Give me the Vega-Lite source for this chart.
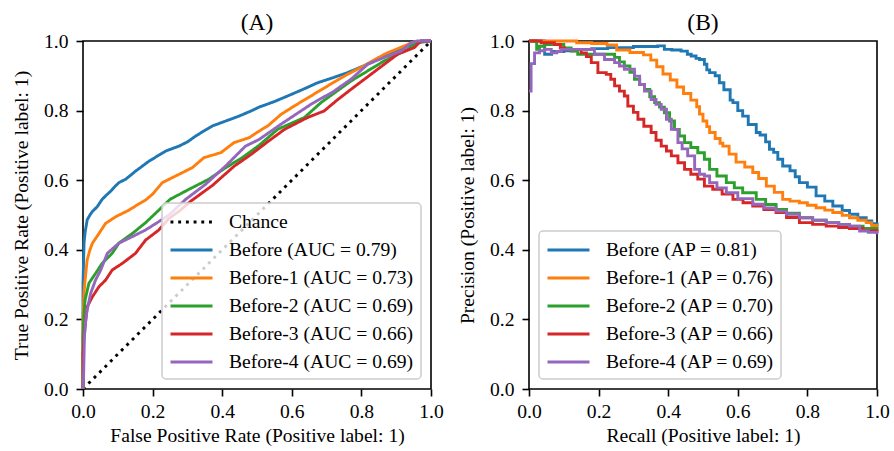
{
  "$schema": "https://vega.github.io/schema/vega-lite/v6.json",
  "padding": {"left": 10, "top": 9, "right": 5, "bottom": 0},
  "spacing": 11,
  "datasets": {
    "roc": [
      {"s": "Chance", "i": 0, "fpr": 0, "tpr": 0},
      {"s": "Chance", "i": 1, "fpr": 1, "tpr": 1},
      {"s": "Before (AUC = 0.79)", "i": 0, "fpr": 0, "tpr": 0},
      {"s": "Before (AUC = 0.79)", "i": 1, "fpr": 0, "tpr": 0.3},
      {"s": "Before (AUC = 0.79)", "i": 2, "fpr": 0.003, "tpr": 0.42},
      {"s": "Before (AUC = 0.79)", "i": 3, "fpr": 0.006, "tpr": 0.45},
      {"s": "Before (AUC = 0.79)", "i": 4, "fpr": 0.012, "tpr": 0.486},
      {"s": "Before (AUC = 0.79)", "i": 5, "fpr": 0.02, "tpr": 0.5},
      {"s": "Before (AUC = 0.79)", "i": 6, "fpr": 0.027, "tpr": 0.51},
      {"s": "Before (AUC = 0.79)", "i": 7, "fpr": 0.041, "tpr": 0.524},
      {"s": "Before (AUC = 0.79)", "i": 8, "fpr": 0.055, "tpr": 0.545},
      {"s": "Before (AUC = 0.79)", "i": 9, "fpr": 0.065, "tpr": 0.555},
      {"s": "Before (AUC = 0.79)", "i": 10, "fpr": 0.08, "tpr": 0.569},
      {"s": "Before (AUC = 0.79)", "i": 11, "fpr": 0.09, "tpr": 0.58},
      {"s": "Before (AUC = 0.79)", "i": 12, "fpr": 0.103, "tpr": 0.593},
      {"s": "Before (AUC = 0.79)", "i": 13, "fpr": 0.123, "tpr": 0.603},
      {"s": "Before (AUC = 0.79)", "i": 14, "fpr": 0.151, "tpr": 0.626},
      {"s": "Before (AUC = 0.79)", "i": 15, "fpr": 0.17, "tpr": 0.64},
      {"s": "Before (AUC = 0.79)", "i": 16, "fpr": 0.19, "tpr": 0.655},
      {"s": "Before (AUC = 0.79)", "i": 17, "fpr": 0.215, "tpr": 0.67},
      {"s": "Before (AUC = 0.79)", "i": 18, "fpr": 0.238, "tpr": 0.684},
      {"s": "Before (AUC = 0.79)", "i": 19, "fpr": 0.276, "tpr": 0.698},
      {"s": "Before (AUC = 0.79)", "i": 20, "fpr": 0.3, "tpr": 0.71},
      {"s": "Before (AUC = 0.79)", "i": 21, "fpr": 0.324, "tpr": 0.727},
      {"s": "Before (AUC = 0.79)", "i": 22, "fpr": 0.345, "tpr": 0.74},
      {"s": "Before (AUC = 0.79)", "i": 23, "fpr": 0.372, "tpr": 0.756},
      {"s": "Before (AUC = 0.79)", "i": 24, "fpr": 0.41, "tpr": 0.77},
      {"s": "Before (AUC = 0.79)", "i": 25, "fpr": 0.448, "tpr": 0.784},
      {"s": "Before (AUC = 0.79)", "i": 26, "fpr": 0.483, "tpr": 0.799},
      {"s": "Before (AUC = 0.79)", "i": 27, "fpr": 0.506, "tpr": 0.81},
      {"s": "Before (AUC = 0.79)", "i": 28, "fpr": 0.55, "tpr": 0.826},
      {"s": "Before (AUC = 0.79)", "i": 29, "fpr": 0.588, "tpr": 0.842},
      {"s": "Before (AUC = 0.79)", "i": 30, "fpr": 0.63, "tpr": 0.86},
      {"s": "Before (AUC = 0.79)", "i": 31, "fpr": 0.674, "tpr": 0.88},
      {"s": "Before (AUC = 0.79)", "i": 32, "fpr": 0.72, "tpr": 0.895},
      {"s": "Before (AUC = 0.79)", "i": 33, "fpr": 0.76, "tpr": 0.909},
      {"s": "Before (AUC = 0.79)", "i": 34, "fpr": 0.81, "tpr": 0.93},
      {"s": "Before (AUC = 0.79)", "i": 35, "fpr": 0.866, "tpr": 0.957},
      {"s": "Before (AUC = 0.79)", "i": 36, "fpr": 0.9, "tpr": 0.972},
      {"s": "Before (AUC = 0.79)", "i": 37, "fpr": 0.933, "tpr": 0.986},
      {"s": "Before (AUC = 0.79)", "i": 38, "fpr": 0.971, "tpr": 1.0},
      {"s": "Before (AUC = 0.79)", "i": 39, "fpr": 1, "tpr": 1},
      {"s": "Before-1 (AUC = 0.73)", "i": 0, "fpr": 0, "tpr": 0},
      {"s": "Before-1 (AUC = 0.73)", "i": 1, "fpr": 0, "tpr": 0.2},
      {"s": "Before-1 (AUC = 0.73)", "i": 2, "fpr": 0.003, "tpr": 0.28},
      {"s": "Before-1 (AUC = 0.73)", "i": 3, "fpr": 0.006, "tpr": 0.313},
      {"s": "Before-1 (AUC = 0.73)", "i": 4, "fpr": 0.012, "tpr": 0.371},
      {"s": "Before-1 (AUC = 0.73)", "i": 5, "fpr": 0.02, "tpr": 0.4},
      {"s": "Before-1 (AUC = 0.73)", "i": 6, "fpr": 0.027, "tpr": 0.419},
      {"s": "Before-1 (AUC = 0.73)", "i": 7, "fpr": 0.046, "tpr": 0.447},
      {"s": "Before-1 (AUC = 0.73)", "i": 8, "fpr": 0.065, "tpr": 0.476},
      {"s": "Before-1 (AUC = 0.73)", "i": 9, "fpr": 0.094, "tpr": 0.495},
      {"s": "Before-1 (AUC = 0.73)", "i": 10, "fpr": 0.132, "tpr": 0.514},
      {"s": "Before-1 (AUC = 0.73)", "i": 11, "fpr": 0.151, "tpr": 0.526},
      {"s": "Before-1 (AUC = 0.73)", "i": 12, "fpr": 0.18, "tpr": 0.543},
      {"s": "Before-1 (AUC = 0.73)", "i": 13, "fpr": 0.2, "tpr": 0.56},
      {"s": "Before-1 (AUC = 0.73)", "i": 14, "fpr": 0.228, "tpr": 0.593},
      {"s": "Before-1 (AUC = 0.73)", "i": 15, "fpr": 0.266, "tpr": 0.612},
      {"s": "Before-1 (AUC = 0.73)", "i": 16, "fpr": 0.314, "tpr": 0.636},
      {"s": "Before-1 (AUC = 0.73)", "i": 17, "fpr": 0.348, "tpr": 0.665},
      {"s": "Before-1 (AUC = 0.73)", "i": 18, "fpr": 0.396, "tpr": 0.679},
      {"s": "Before-1 (AUC = 0.73)", "i": 19, "fpr": 0.434, "tpr": 0.708},
      {"s": "Before-1 (AUC = 0.73)", "i": 20, "fpr": 0.477, "tpr": 0.722},
      {"s": "Before-1 (AUC = 0.73)", "i": 21, "fpr": 0.506, "tpr": 0.741},
      {"s": "Before-1 (AUC = 0.73)", "i": 22, "fpr": 0.531, "tpr": 0.756},
      {"s": "Before-1 (AUC = 0.73)", "i": 23, "fpr": 0.569, "tpr": 0.789},
      {"s": "Before-1 (AUC = 0.73)", "i": 24, "fpr": 0.61, "tpr": 0.815},
      {"s": "Before-1 (AUC = 0.73)", "i": 25, "fpr": 0.655, "tpr": 0.842},
      {"s": "Before-1 (AUC = 0.73)", "i": 26, "fpr": 0.71, "tpr": 0.875},
      {"s": "Before-1 (AUC = 0.73)", "i": 27, "fpr": 0.76, "tpr": 0.904},
      {"s": "Before-1 (AUC = 0.73)", "i": 28, "fpr": 0.81, "tpr": 0.93},
      {"s": "Before-1 (AUC = 0.73)", "i": 29, "fpr": 0.866, "tpr": 0.962},
      {"s": "Before-1 (AUC = 0.73)", "i": 30, "fpr": 0.933, "tpr": 0.99},
      {"s": "Before-1 (AUC = 0.73)", "i": 31, "fpr": 0.95, "tpr": 0.997},
      {"s": "Before-1 (AUC = 0.73)", "i": 32, "fpr": 1, "tpr": 1},
      {"s": "Before-2 (AUC = 0.69)", "i": 0, "fpr": 0, "tpr": 0},
      {"s": "Before-2 (AUC = 0.69)", "i": 1, "fpr": 0, "tpr": 0.15},
      {"s": "Before-2 (AUC = 0.69)", "i": 2, "fpr": 0.003, "tpr": 0.22},
      {"s": "Before-2 (AUC = 0.69)", "i": 3, "fpr": 0.006, "tpr": 0.256},
      {"s": "Before-2 (AUC = 0.69)", "i": 4, "fpr": 0.017, "tpr": 0.304},
      {"s": "Before-2 (AUC = 0.69)", "i": 5, "fpr": 0.036, "tpr": 0.332},
      {"s": "Before-2 (AUC = 0.69)", "i": 6, "fpr": 0.055, "tpr": 0.361},
      {"s": "Before-2 (AUC = 0.69)", "i": 7, "fpr": 0.084, "tpr": 0.39},
      {"s": "Before-2 (AUC = 0.69)", "i": 8, "fpr": 0.103, "tpr": 0.419},
      {"s": "Before-2 (AUC = 0.69)", "i": 9, "fpr": 0.142, "tpr": 0.447},
      {"s": "Before-2 (AUC = 0.69)", "i": 10, "fpr": 0.18, "tpr": 0.478},
      {"s": "Before-2 (AUC = 0.69)", "i": 11, "fpr": 0.218, "tpr": 0.514},
      {"s": "Before-2 (AUC = 0.69)", "i": 12, "fpr": 0.25, "tpr": 0.545},
      {"s": "Before-2 (AUC = 0.69)", "i": 13, "fpr": 0.305, "tpr": 0.574},
      {"s": "Before-2 (AUC = 0.69)", "i": 14, "fpr": 0.362, "tpr": 0.603},
      {"s": "Before-2 (AUC = 0.69)", "i": 15, "fpr": 0.41, "tpr": 0.636},
      {"s": "Before-2 (AUC = 0.69)", "i": 16, "fpr": 0.458, "tpr": 0.665},
      {"s": "Before-2 (AUC = 0.69)", "i": 17, "fpr": 0.506, "tpr": 0.7},
      {"s": "Before-2 (AUC = 0.69)", "i": 18, "fpr": 0.559, "tpr": 0.746},
      {"s": "Before-2 (AUC = 0.69)", "i": 19, "fpr": 0.636, "tpr": 0.78},
      {"s": "Before-2 (AUC = 0.69)", "i": 20, "fpr": 0.684, "tpr": 0.823},
      {"s": "Before-2 (AUC = 0.69)", "i": 21, "fpr": 0.77, "tpr": 0.885},
      {"s": "Before-2 (AUC = 0.69)", "i": 22, "fpr": 0.866, "tpr": 0.943},
      {"s": "Before-2 (AUC = 0.69)", "i": 23, "fpr": 0.933, "tpr": 0.976},
      {"s": "Before-2 (AUC = 0.69)", "i": 24, "fpr": 0.962, "tpr": 0.995},
      {"s": "Before-2 (AUC = 0.69)", "i": 25, "fpr": 1, "tpr": 1},
      {"s": "Before-3 (AUC = 0.66)", "i": 0, "fpr": 0, "tpr": 0},
      {"s": "Before-3 (AUC = 0.66)", "i": 1, "fpr": 0, "tpr": 0.1},
      {"s": "Before-3 (AUC = 0.66)", "i": 2, "fpr": 0.003, "tpr": 0.15},
      {"s": "Before-3 (AUC = 0.66)", "i": 3, "fpr": 0.006, "tpr": 0.179},
      {"s": "Before-3 (AUC = 0.66)", "i": 4, "fpr": 0.012, "tpr": 0.236},
      {"s": "Before-3 (AUC = 0.66)", "i": 5, "fpr": 0.027, "tpr": 0.265},
      {"s": "Before-3 (AUC = 0.66)", "i": 6, "fpr": 0.046, "tpr": 0.294},
      {"s": "Before-3 (AUC = 0.66)", "i": 7, "fpr": 0.065, "tpr": 0.313},
      {"s": "Before-3 (AUC = 0.66)", "i": 8, "fpr": 0.084, "tpr": 0.342},
      {"s": "Before-3 (AUC = 0.66)", "i": 9, "fpr": 0.113, "tpr": 0.361},
      {"s": "Before-3 (AUC = 0.66)", "i": 10, "fpr": 0.151, "tpr": 0.39},
      {"s": "Before-3 (AUC = 0.66)", "i": 11, "fpr": 0.18, "tpr": 0.428},
      {"s": "Before-3 (AUC = 0.66)", "i": 12, "fpr": 0.218, "tpr": 0.457},
      {"s": "Before-3 (AUC = 0.66)", "i": 13, "fpr": 0.247, "tpr": 0.49},
      {"s": "Before-3 (AUC = 0.66)", "i": 14, "fpr": 0.275, "tpr": 0.51},
      {"s": "Before-3 (AUC = 0.66)", "i": 15, "fpr": 0.31, "tpr": 0.54},
      {"s": "Before-3 (AUC = 0.66)", "i": 16, "fpr": 0.372, "tpr": 0.585},
      {"s": "Before-3 (AUC = 0.66)", "i": 17, "fpr": 0.434, "tpr": 0.64},
      {"s": "Before-3 (AUC = 0.66)", "i": 18, "fpr": 0.483, "tpr": 0.674},
      {"s": "Before-3 (AUC = 0.66)", "i": 19, "fpr": 0.53, "tpr": 0.71},
      {"s": "Before-3 (AUC = 0.66)", "i": 20, "fpr": 0.579, "tpr": 0.746},
      {"s": "Before-3 (AUC = 0.66)", "i": 21, "fpr": 0.645, "tpr": 0.78},
      {"s": "Before-3 (AUC = 0.66)", "i": 22, "fpr": 0.693, "tpr": 0.799},
      {"s": "Before-3 (AUC = 0.66)", "i": 23, "fpr": 0.73, "tpr": 0.83},
      {"s": "Before-3 (AUC = 0.66)", "i": 24, "fpr": 0.77, "tpr": 0.861},
      {"s": "Before-3 (AUC = 0.66)", "i": 25, "fpr": 0.847, "tpr": 0.919},
      {"s": "Before-3 (AUC = 0.66)", "i": 26, "fpr": 0.904, "tpr": 0.962},
      {"s": "Before-3 (AUC = 0.66)", "i": 27, "fpr": 0.952, "tpr": 0.981},
      {"s": "Before-3 (AUC = 0.66)", "i": 28, "fpr": 0.971, "tpr": 1.0},
      {"s": "Before-3 (AUC = 0.66)", "i": 29, "fpr": 1, "tpr": 1},
      {"s": "Before-4 (AUC = 0.69)", "i": 0, "fpr": 0, "tpr": 0},
      {"s": "Before-4 (AUC = 0.69)", "i": 1, "fpr": 0.002, "tpr": 0.05},
      {"s": "Before-4 (AUC = 0.69)", "i": 2, "fpr": 0.004, "tpr": 0.15},
      {"s": "Before-4 (AUC = 0.69)", "i": 3, "fpr": 0.008, "tpr": 0.2},
      {"s": "Before-4 (AUC = 0.69)", "i": 4, "fpr": 0.012, "tpr": 0.227},
      {"s": "Before-4 (AUC = 0.69)", "i": 5, "fpr": 0.022, "tpr": 0.275},
      {"s": "Before-4 (AUC = 0.69)", "i": 6, "fpr": 0.036, "tpr": 0.313},
      {"s": "Before-4 (AUC = 0.69)", "i": 7, "fpr": 0.051, "tpr": 0.342},
      {"s": "Before-4 (AUC = 0.69)", "i": 8, "fpr": 0.07, "tpr": 0.39},
      {"s": "Before-4 (AUC = 0.69)", "i": 9, "fpr": 0.103, "tpr": 0.419},
      {"s": "Before-4 (AUC = 0.69)", "i": 10, "fpr": 0.142, "tpr": 0.438},
      {"s": "Before-4 (AUC = 0.69)", "i": 11, "fpr": 0.18, "tpr": 0.457},
      {"s": "Before-4 (AUC = 0.69)", "i": 12, "fpr": 0.218, "tpr": 0.481},
      {"s": "Before-4 (AUC = 0.69)", "i": 13, "fpr": 0.247, "tpr": 0.5},
      {"s": "Before-4 (AUC = 0.69)", "i": 14, "fpr": 0.295, "tpr": 0.545},
      {"s": "Before-4 (AUC = 0.69)", "i": 15, "fpr": 0.352, "tpr": 0.588},
      {"s": "Before-4 (AUC = 0.69)", "i": 16, "fpr": 0.41, "tpr": 0.641},
      {"s": "Before-4 (AUC = 0.69)", "i": 17, "fpr": 0.467, "tpr": 0.698},
      {"s": "Before-4 (AUC = 0.69)", "i": 18, "fpr": 0.506, "tpr": 0.717},
      {"s": "Before-4 (AUC = 0.69)", "i": 19, "fpr": 0.569, "tpr": 0.761},
      {"s": "Before-4 (AUC = 0.69)", "i": 20, "fpr": 0.655, "tpr": 0.818},
      {"s": "Before-4 (AUC = 0.69)", "i": 21, "fpr": 0.72, "tpr": 0.855},
      {"s": "Before-4 (AUC = 0.69)", "i": 22, "fpr": 0.77, "tpr": 0.89},
      {"s": "Before-4 (AUC = 0.69)", "i": 23, "fpr": 0.818, "tpr": 0.933},
      {"s": "Before-4 (AUC = 0.69)", "i": 24, "fpr": 0.866, "tpr": 0.953},
      {"s": "Before-4 (AUC = 0.69)", "i": 25, "fpr": 0.914, "tpr": 0.971},
      {"s": "Before-4 (AUC = 0.69)", "i": 26, "fpr": 0.943, "tpr": 0.995},
      {"s": "Before-4 (AUC = 0.69)", "i": 27, "fpr": 0.96, "tpr": 1.0},
      {"s": "Before-4 (AUC = 0.69)", "i": 28, "fpr": 1, "tpr": 1}
    ],
    "pr": [
      {"s": "Before (AP = 0.81)", "i": 0, "r": 0, "p": 1.0},
      {"s": "Before (AP = 0.81)", "i": 1, "r": 0.04, "p": 1.0},
      {"s": "Before (AP = 0.81)", "i": 2, "r": 0.045, "p": 0.962},
      {"s": "Before (AP = 0.81)", "i": 3, "r": 0.06, "p": 0.962},
      {"s": "Before (AP = 0.81)", "i": 4, "r": 0.065, "p": 0.97},
      {"s": "Before (AP = 0.81)", "i": 5, "r": 0.1, "p": 0.972},
      {"s": "Before (AP = 0.81)", "i": 6, "r": 0.131, "p": 0.976},
      {"s": "Before (AP = 0.81)", "i": 7, "r": 0.18, "p": 0.978},
      {"s": "Before (AP = 0.81)", "i": 8, "r": 0.226, "p": 0.981},
      {"s": "Before (AP = 0.81)", "i": 9, "r": 0.3, "p": 0.984},
      {"s": "Before (AP = 0.81)", "i": 10, "r": 0.37, "p": 0.986},
      {"s": "Before (AP = 0.81)", "i": 11, "r": 0.389, "p": 0.976},
      {"s": "Before (AP = 0.81)", "i": 12, "r": 0.41, "p": 0.974},
      {"s": "Before (AP = 0.81)", "i": 13, "r": 0.437, "p": 0.971},
      {"s": "Before (AP = 0.81)", "i": 14, "r": 0.455, "p": 0.962},
      {"s": "Before (AP = 0.81)", "i": 15, "r": 0.466, "p": 0.957},
      {"s": "Before (AP = 0.81)", "i": 16, "r": 0.48, "p": 0.95},
      {"s": "Before (AP = 0.81)", "i": 17, "r": 0.49, "p": 0.947},
      {"s": "Before (AP = 0.81)", "i": 18, "r": 0.504, "p": 0.933},
      {"s": "Before (AP = 0.81)", "i": 19, "r": 0.511, "p": 0.917},
      {"s": "Before (AP = 0.81)", "i": 20, "r": 0.519, "p": 0.909},
      {"s": "Before (AP = 0.81)", "i": 21, "r": 0.535, "p": 0.9},
      {"s": "Before (AP = 0.81)", "i": 22, "r": 0.547, "p": 0.88},
      {"s": "Before (AP = 0.81)", "i": 23, "r": 0.56, "p": 0.86},
      {"s": "Before (AP = 0.81)", "i": 24, "r": 0.578, "p": 0.83},
      {"s": "Before (AP = 0.81)", "i": 25, "r": 0.586, "p": 0.823},
      {"s": "Before (AP = 0.81)", "i": 26, "r": 0.6, "p": 0.8},
      {"s": "Before (AP = 0.81)", "i": 27, "r": 0.614, "p": 0.784},
      {"s": "Before (AP = 0.81)", "i": 28, "r": 0.63, "p": 0.76},
      {"s": "Before (AP = 0.81)", "i": 29, "r": 0.653, "p": 0.737},
      {"s": "Before (AP = 0.81)", "i": 30, "r": 0.664, "p": 0.73},
      {"s": "Before (AP = 0.81)", "i": 31, "r": 0.68, "p": 0.71},
      {"s": "Before (AP = 0.81)", "i": 32, "r": 0.691, "p": 0.689},
      {"s": "Before (AP = 0.81)", "i": 33, "r": 0.703, "p": 0.68},
      {"s": "Before (AP = 0.81)", "i": 34, "r": 0.715, "p": 0.66},
      {"s": "Before (AP = 0.81)", "i": 35, "r": 0.729, "p": 0.641},
      {"s": "Before (AP = 0.81)", "i": 36, "r": 0.75, "p": 0.627},
      {"s": "Before (AP = 0.81)", "i": 37, "r": 0.765, "p": 0.61},
      {"s": "Before (AP = 0.81)", "i": 38, "r": 0.777, "p": 0.593},
      {"s": "Before (AP = 0.81)", "i": 39, "r": 0.8, "p": 0.58},
      {"s": "Before (AP = 0.81)", "i": 40, "r": 0.825, "p": 0.555},
      {"s": "Before (AP = 0.81)", "i": 41, "r": 0.85, "p": 0.54},
      {"s": "Before (AP = 0.81)", "i": 42, "r": 0.873, "p": 0.526},
      {"s": "Before (AP = 0.81)", "i": 43, "r": 0.9, "p": 0.513},
      {"s": "Before (AP = 0.81)", "i": 44, "r": 0.921, "p": 0.502},
      {"s": "Before (AP = 0.81)", "i": 45, "r": 0.945, "p": 0.492},
      {"s": "Before (AP = 0.81)", "i": 46, "r": 0.969, "p": 0.483},
      {"s": "Before (AP = 0.81)", "i": 47, "r": 0.985, "p": 0.475},
      {"s": "Before (AP = 0.81)", "i": 48, "r": 1.0, "p": 0.466},
      {"s": "Before-1 (AP = 0.76)", "i": 0, "r": 0, "p": 1.0},
      {"s": "Before-1 (AP = 0.76)", "i": 1, "r": 0.137, "p": 0.995},
      {"s": "Before-1 (AP = 0.76)", "i": 2, "r": 0.18, "p": 0.993},
      {"s": "Before-1 (AP = 0.76)", "i": 3, "r": 0.224, "p": 0.989},
      {"s": "Before-1 (AP = 0.76)", "i": 4, "r": 0.252, "p": 0.974},
      {"s": "Before-1 (AP = 0.76)", "i": 5, "r": 0.29, "p": 0.967},
      {"s": "Before-1 (AP = 0.76)", "i": 6, "r": 0.329, "p": 0.96},
      {"s": "Before-1 (AP = 0.76)", "i": 7, "r": 0.35, "p": 0.945},
      {"s": "Before-1 (AP = 0.76)", "i": 8, "r": 0.367, "p": 0.926},
      {"s": "Before-1 (AP = 0.76)", "i": 9, "r": 0.385, "p": 0.905},
      {"s": "Before-1 (AP = 0.76)", "i": 10, "r": 0.406, "p": 0.888},
      {"s": "Before-1 (AP = 0.76)", "i": 11, "r": 0.425, "p": 0.868},
      {"s": "Before-1 (AP = 0.76)", "i": 12, "r": 0.444, "p": 0.849},
      {"s": "Before-1 (AP = 0.76)", "i": 13, "r": 0.465, "p": 0.83},
      {"s": "Before-1 (AP = 0.76)", "i": 14, "r": 0.482, "p": 0.811},
      {"s": "Before-1 (AP = 0.76)", "i": 15, "r": 0.49, "p": 0.79},
      {"s": "Before-1 (AP = 0.76)", "i": 16, "r": 0.5, "p": 0.77},
      {"s": "Before-1 (AP = 0.76)", "i": 17, "r": 0.511, "p": 0.754},
      {"s": "Before-1 (AP = 0.76)", "i": 18, "r": 0.519, "p": 0.737},
      {"s": "Before-1 (AP = 0.76)", "i": 19, "r": 0.535, "p": 0.72},
      {"s": "Before-1 (AP = 0.76)", "i": 20, "r": 0.549, "p": 0.706},
      {"s": "Before-1 (AP = 0.76)", "i": 21, "r": 0.557, "p": 0.698},
      {"s": "Before-1 (AP = 0.76)", "i": 22, "r": 0.575, "p": 0.675},
      {"s": "Before-1 (AP = 0.76)", "i": 23, "r": 0.595, "p": 0.652},
      {"s": "Before-1 (AP = 0.76)", "i": 24, "r": 0.62, "p": 0.638},
      {"s": "Before-1 (AP = 0.76)", "i": 25, "r": 0.643, "p": 0.622},
      {"s": "Before-1 (AP = 0.76)", "i": 26, "r": 0.66, "p": 0.605},
      {"s": "Before-1 (AP = 0.76)", "i": 27, "r": 0.682, "p": 0.583},
      {"s": "Before-1 (AP = 0.76)", "i": 28, "r": 0.705, "p": 0.565},
      {"s": "Before-1 (AP = 0.76)", "i": 29, "r": 0.729, "p": 0.545},
      {"s": "Before-1 (AP = 0.76)", "i": 30, "r": 0.75, "p": 0.54},
      {"s": "Before-1 (AP = 0.76)", "i": 31, "r": 0.777, "p": 0.535},
      {"s": "Before-1 (AP = 0.76)", "i": 32, "r": 0.8, "p": 0.528},
      {"s": "Before-1 (AP = 0.76)", "i": 33, "r": 0.825, "p": 0.521},
      {"s": "Before-1 (AP = 0.76)", "i": 34, "r": 0.85, "p": 0.514},
      {"s": "Before-1 (AP = 0.76)", "i": 35, "r": 0.873, "p": 0.507},
      {"s": "Before-1 (AP = 0.76)", "i": 36, "r": 0.9, "p": 0.499},
      {"s": "Before-1 (AP = 0.76)", "i": 37, "r": 0.921, "p": 0.492},
      {"s": "Before-1 (AP = 0.76)", "i": 38, "r": 0.945, "p": 0.485},
      {"s": "Before-1 (AP = 0.76)", "i": 39, "r": 0.969, "p": 0.478},
      {"s": "Before-1 (AP = 0.76)", "i": 40, "r": 0.985, "p": 0.47},
      {"s": "Before-1 (AP = 0.76)", "i": 41, "r": 1.0, "p": 0.462},
      {"s": "Before-2 (AP = 0.70)", "i": 0, "r": 0, "p": 1.0},
      {"s": "Before-2 (AP = 0.70)", "i": 1, "r": 0.02, "p": 1.0},
      {"s": "Before-2 (AP = 0.70)", "i": 2, "r": 0.022, "p": 0.976},
      {"s": "Before-2 (AP = 0.70)", "i": 3, "r": 0.03, "p": 0.985},
      {"s": "Before-2 (AP = 0.70)", "i": 4, "r": 0.045, "p": 0.99},
      {"s": "Before-2 (AP = 0.70)", "i": 5, "r": 0.083, "p": 0.99},
      {"s": "Before-2 (AP = 0.70)", "i": 6, "r": 0.1, "p": 0.98},
      {"s": "Before-2 (AP = 0.70)", "i": 7, "r": 0.121, "p": 0.971},
      {"s": "Before-2 (AP = 0.70)", "i": 8, "r": 0.14, "p": 0.962},
      {"s": "Before-2 (AP = 0.70)", "i": 9, "r": 0.226, "p": 0.962},
      {"s": "Before-2 (AP = 0.70)", "i": 10, "r": 0.246, "p": 0.953},
      {"s": "Before-2 (AP = 0.70)", "i": 11, "r": 0.26, "p": 0.94},
      {"s": "Before-2 (AP = 0.70)", "i": 12, "r": 0.274, "p": 0.928},
      {"s": "Before-2 (AP = 0.70)", "i": 13, "r": 0.29, "p": 0.91},
      {"s": "Before-2 (AP = 0.70)", "i": 14, "r": 0.303, "p": 0.89},
      {"s": "Before-2 (AP = 0.70)", "i": 15, "r": 0.318, "p": 0.875},
      {"s": "Before-2 (AP = 0.70)", "i": 16, "r": 0.332, "p": 0.861},
      {"s": "Before-2 (AP = 0.70)", "i": 17, "r": 0.347, "p": 0.84},
      {"s": "Before-2 (AP = 0.70)", "i": 18, "r": 0.361, "p": 0.823},
      {"s": "Before-2 (AP = 0.70)", "i": 19, "r": 0.375, "p": 0.81},
      {"s": "Before-2 (AP = 0.70)", "i": 20, "r": 0.389, "p": 0.794},
      {"s": "Before-2 (AP = 0.70)", "i": 21, "r": 0.404, "p": 0.77},
      {"s": "Before-2 (AP = 0.70)", "i": 22, "r": 0.418, "p": 0.746},
      {"s": "Before-2 (AP = 0.70)", "i": 23, "r": 0.432, "p": 0.727},
      {"s": "Before-2 (AP = 0.70)", "i": 24, "r": 0.447, "p": 0.708},
      {"s": "Before-2 (AP = 0.70)", "i": 25, "r": 0.465, "p": 0.694},
      {"s": "Before-2 (AP = 0.70)", "i": 26, "r": 0.485, "p": 0.679},
      {"s": "Before-2 (AP = 0.70)", "i": 27, "r": 0.504, "p": 0.66},
      {"s": "Before-2 (AP = 0.70)", "i": 28, "r": 0.519, "p": 0.631},
      {"s": "Before-2 (AP = 0.70)", "i": 29, "r": 0.54, "p": 0.612},
      {"s": "Before-2 (AP = 0.70)", "i": 30, "r": 0.567, "p": 0.593},
      {"s": "Before-2 (AP = 0.70)", "i": 31, "r": 0.59, "p": 0.578},
      {"s": "Before-2 (AP = 0.70)", "i": 32, "r": 0.614, "p": 0.564},
      {"s": "Before-2 (AP = 0.70)", "i": 33, "r": 0.653, "p": 0.545},
      {"s": "Before-2 (AP = 0.70)", "i": 34, "r": 0.68, "p": 0.53},
      {"s": "Before-2 (AP = 0.70)", "i": 35, "r": 0.71, "p": 0.516},
      {"s": "Before-2 (AP = 0.70)", "i": 36, "r": 0.74, "p": 0.505},
      {"s": "Before-2 (AP = 0.70)", "i": 37, "r": 0.777, "p": 0.492},
      {"s": "Before-2 (AP = 0.70)", "i": 38, "r": 0.815, "p": 0.485},
      {"s": "Before-2 (AP = 0.70)", "i": 39, "r": 0.854, "p": 0.478},
      {"s": "Before-2 (AP = 0.70)", "i": 40, "r": 0.89, "p": 0.473},
      {"s": "Before-2 (AP = 0.70)", "i": 41, "r": 0.921, "p": 0.468},
      {"s": "Before-2 (AP = 0.70)", "i": 42, "r": 0.96, "p": 0.461},
      {"s": "Before-2 (AP = 0.70)", "i": 43, "r": 1.0, "p": 0.454},
      {"s": "Before-3 (AP = 0.66)", "i": 0, "r": 0, "p": 1.0},
      {"s": "Before-3 (AP = 0.66)", "i": 1, "r": 0.035, "p": 0.995},
      {"s": "Before-3 (AP = 0.66)", "i": 2, "r": 0.073, "p": 0.99},
      {"s": "Before-3 (AP = 0.66)", "i": 3, "r": 0.09, "p": 0.98},
      {"s": "Before-3 (AP = 0.66)", "i": 4, "r": 0.102, "p": 0.976},
      {"s": "Before-3 (AP = 0.66)", "i": 5, "r": 0.15, "p": 0.966},
      {"s": "Before-3 (AP = 0.66)", "i": 6, "r": 0.165, "p": 0.955},
      {"s": "Before-3 (AP = 0.66)", "i": 7, "r": 0.179, "p": 0.938},
      {"s": "Before-3 (AP = 0.66)", "i": 8, "r": 0.198, "p": 0.909},
      {"s": "Before-3 (AP = 0.66)", "i": 9, "r": 0.222, "p": 0.904},
      {"s": "Before-3 (AP = 0.66)", "i": 10, "r": 0.235, "p": 0.89},
      {"s": "Before-3 (AP = 0.66)", "i": 11, "r": 0.246, "p": 0.871},
      {"s": "Before-3 (AP = 0.66)", "i": 12, "r": 0.26, "p": 0.856},
      {"s": "Before-3 (AP = 0.66)", "i": 13, "r": 0.274, "p": 0.842},
      {"s": "Before-3 (AP = 0.66)", "i": 14, "r": 0.284, "p": 0.813},
      {"s": "Before-3 (AP = 0.66)", "i": 15, "r": 0.3, "p": 0.795},
      {"s": "Before-3 (AP = 0.66)", "i": 16, "r": 0.313, "p": 0.775},
      {"s": "Before-3 (AP = 0.66)", "i": 17, "r": 0.33, "p": 0.755},
      {"s": "Before-3 (AP = 0.66)", "i": 18, "r": 0.351, "p": 0.737},
      {"s": "Before-3 (AP = 0.66)", "i": 19, "r": 0.365, "p": 0.715},
      {"s": "Before-3 (AP = 0.66)", "i": 20, "r": 0.38, "p": 0.698},
      {"s": "Before-3 (AP = 0.66)", "i": 21, "r": 0.395, "p": 0.684},
      {"s": "Before-3 (AP = 0.66)", "i": 22, "r": 0.409, "p": 0.67},
      {"s": "Before-3 (AP = 0.66)", "i": 23, "r": 0.428, "p": 0.65},
      {"s": "Before-3 (AP = 0.66)", "i": 24, "r": 0.447, "p": 0.631},
      {"s": "Before-3 (AP = 0.66)", "i": 25, "r": 0.465, "p": 0.617},
      {"s": "Before-3 (AP = 0.66)", "i": 26, "r": 0.485, "p": 0.603},
      {"s": "Before-3 (AP = 0.66)", "i": 27, "r": 0.504, "p": 0.583},
      {"s": "Before-3 (AP = 0.66)", "i": 28, "r": 0.528, "p": 0.574},
      {"s": "Before-3 (AP = 0.66)", "i": 29, "r": 0.555, "p": 0.56},
      {"s": "Before-3 (AP = 0.66)", "i": 30, "r": 0.586, "p": 0.545},
      {"s": "Before-3 (AP = 0.66)", "i": 31, "r": 0.615, "p": 0.535},
      {"s": "Before-3 (AP = 0.66)", "i": 32, "r": 0.643, "p": 0.526},
      {"s": "Before-3 (AP = 0.66)", "i": 33, "r": 0.675, "p": 0.516},
      {"s": "Before-3 (AP = 0.66)", "i": 34, "r": 0.71, "p": 0.507},
      {"s": "Before-3 (AP = 0.66)", "i": 35, "r": 0.74, "p": 0.493},
      {"s": "Before-3 (AP = 0.66)", "i": 36, "r": 0.777, "p": 0.478},
      {"s": "Before-3 (AP = 0.66)", "i": 37, "r": 0.815, "p": 0.473},
      {"s": "Before-3 (AP = 0.66)", "i": 38, "r": 0.854, "p": 0.468},
      {"s": "Before-3 (AP = 0.66)", "i": 39, "r": 0.89, "p": 0.464},
      {"s": "Before-3 (AP = 0.66)", "i": 40, "r": 0.921, "p": 0.461},
      {"s": "Before-3 (AP = 0.66)", "i": 41, "r": 0.96, "p": 0.455},
      {"s": "Before-3 (AP = 0.66)", "i": 42, "r": 1.0, "p": 0.449},
      {"s": "Before-4 (AP = 0.69)", "i": 0, "r": 0, "p": 0.856},
      {"s": "Before-4 (AP = 0.69)", "i": 1, "r": 0.006, "p": 0.935},
      {"s": "Before-4 (AP = 0.69)", "i": 2, "r": 0.016, "p": 0.966},
      {"s": "Before-4 (AP = 0.69)", "i": 3, "r": 0.03, "p": 0.972},
      {"s": "Before-4 (AP = 0.69)", "i": 4, "r": 0.045, "p": 0.976},
      {"s": "Before-4 (AP = 0.69)", "i": 5, "r": 0.064, "p": 0.966},
      {"s": "Before-4 (AP = 0.69)", "i": 6, "r": 0.08, "p": 0.97},
      {"s": "Before-4 (AP = 0.69)", "i": 7, "r": 0.093, "p": 0.976},
      {"s": "Before-4 (AP = 0.69)", "i": 8, "r": 0.16, "p": 0.976},
      {"s": "Before-4 (AP = 0.69)", "i": 9, "r": 0.188, "p": 0.962},
      {"s": "Before-4 (AP = 0.69)", "i": 10, "r": 0.217, "p": 0.947},
      {"s": "Before-4 (AP = 0.69)", "i": 11, "r": 0.246, "p": 0.938},
      {"s": "Before-4 (AP = 0.69)", "i": 12, "r": 0.26, "p": 0.928},
      {"s": "Before-4 (AP = 0.69)", "i": 13, "r": 0.274, "p": 0.919},
      {"s": "Before-4 (AP = 0.69)", "i": 14, "r": 0.303, "p": 0.899},
      {"s": "Before-4 (AP = 0.69)", "i": 15, "r": 0.318, "p": 0.875},
      {"s": "Before-4 (AP = 0.69)", "i": 16, "r": 0.332, "p": 0.856},
      {"s": "Before-4 (AP = 0.69)", "i": 17, "r": 0.351, "p": 0.832},
      {"s": "Before-4 (AP = 0.69)", "i": 18, "r": 0.365, "p": 0.818},
      {"s": "Before-4 (AP = 0.69)", "i": 19, "r": 0.38, "p": 0.804},
      {"s": "Before-4 (AP = 0.69)", "i": 20, "r": 0.395, "p": 0.775},
      {"s": "Before-4 (AP = 0.69)", "i": 21, "r": 0.409, "p": 0.746},
      {"s": "Before-4 (AP = 0.69)", "i": 22, "r": 0.428, "p": 0.708},
      {"s": "Before-4 (AP = 0.69)", "i": 23, "r": 0.44, "p": 0.69},
      {"s": "Before-4 (AP = 0.69)", "i": 24, "r": 0.456, "p": 0.67},
      {"s": "Before-4 (AP = 0.69)", "i": 25, "r": 0.476, "p": 0.631},
      {"s": "Before-4 (AP = 0.69)", "i": 26, "r": 0.49, "p": 0.617},
      {"s": "Before-4 (AP = 0.69)", "i": 27, "r": 0.504, "p": 0.612},
      {"s": "Before-4 (AP = 0.69)", "i": 28, "r": 0.519, "p": 0.593},
      {"s": "Before-4 (AP = 0.69)", "i": 29, "r": 0.54, "p": 0.578},
      {"s": "Before-4 (AP = 0.69)", "i": 30, "r": 0.567, "p": 0.564},
      {"s": "Before-4 (AP = 0.69)", "i": 31, "r": 0.6, "p": 0.547},
      {"s": "Before-4 (AP = 0.69)", "i": 32, "r": 0.643, "p": 0.531},
      {"s": "Before-4 (AP = 0.69)", "i": 33, "r": 0.675, "p": 0.52},
      {"s": "Before-4 (AP = 0.69)", "i": 34, "r": 0.71, "p": 0.511},
      {"s": "Before-4 (AP = 0.69)", "i": 35, "r": 0.74, "p": 0.502},
      {"s": "Before-4 (AP = 0.69)", "i": 36, "r": 0.777, "p": 0.492},
      {"s": "Before-4 (AP = 0.69)", "i": 37, "r": 0.815, "p": 0.485},
      {"s": "Before-4 (AP = 0.69)", "i": 38, "r": 0.854, "p": 0.478},
      {"s": "Before-4 (AP = 0.69)", "i": 39, "r": 0.89, "p": 0.473},
      {"s": "Before-4 (AP = 0.69)", "i": 40, "r": 0.921, "p": 0.468},
      {"s": "Before-4 (AP = 0.69)", "i": 41, "r": 0.95, "p": 0.454},
      {"s": "Before-4 (AP = 0.69)", "i": 42, "r": 0.975, "p": 0.45},
      {"s": "Before-4 (AP = 0.69)", "i": 43, "r": 1.0, "p": 0.445}
    ]
  },
  "hconcat": [
    {
      "data": {"name": "roc"},
      "width": 348,
      "height": 348,
      "title": "(A)",
      "mark": {"type": "line", "strokeWidth": 2.9, "clip": false},
      "encoding": {
        "x": {"field": "fpr", "type": "quantitative", "scale": {"domain": [0, 1], "nice": false},
              "axis": {"title": "False Positive Rate (Positive label: 1)", "values": [0, 0.2, 0.4, 0.6, 0.8, 1], "format": ".1f"}},
        "y": {"field": "tpr", "type": "quantitative", "scale": {"domain": [0, 1], "nice": false},
              "axis": {"title": "True Positive Rate (Positive label: 1)", "values": [0, 0.2, 0.4, 0.6, 0.8, 1], "format": ".1f"}},
        "order": {"field": "i", "type": "quantitative"},
        "color": {"field": "s", "type": "nominal",
                  "scale": {"domain": ["Chance", "Before (AUC = 0.79)", "Before-1 (AUC = 0.73)", "Before-2 (AUC = 0.69)", "Before-3 (AUC = 0.66)", "Before-4 (AUC = 0.69)"],
                            "range": ["#000000", "#1f77b4", "#ff7f0e", "#2ca02c", "#d62728", "#9467bd"]},
                  "legend": {"title": null, "orient": "bottom-right", "offset": 10}},
        "strokeDash": {"field": "s", "type": "nominal",
                  "scale": {"domain": ["Chance", "Before (AUC = 0.79)", "Before-1 (AUC = 0.73)", "Before-2 (AUC = 0.69)", "Before-3 (AUC = 0.66)", "Before-4 (AUC = 0.69)"],
                            "range": [[2.9, 4.8], [1, 0], [1, 0], [1, 0], [1, 0], [1, 0]]},
                  "legend": {"title": null, "orient": "bottom-right", "offset": 10}}
      }
    },
    {
      "data": {"name": "pr"},
      "width": 348,
      "height": 348,
      "title": "(B)",
      "mark": {"type": "line", "strokeWidth": 2.9, "interpolate": "step-after", "clip": false},
      "encoding": {
        "x": {"field": "r", "type": "quantitative", "scale": {"domain": [0, 1], "nice": false},
              "axis": {"title": "Recall (Positive label: 1)", "values": [0, 0.2, 0.4, 0.6, 0.8, 1], "format": ".1f"}},
        "y": {"field": "p", "type": "quantitative", "scale": {"domain": [0, 1], "nice": false},
              "axis": {"title": "Precision (Positive label: 1)", "values": [0, 0.2, 0.4, 0.6, 0.8, 1], "format": ".1f"}},
        "order": {"field": "i", "type": "quantitative"},
        "color": {"field": "s", "type": "nominal",
                  "scale": {"domain": ["Before (AP = 0.81)", "Before-1 (AP = 0.76)", "Before-2 (AP = 0.70)", "Before-3 (AP = 0.66)", "Before-4 (AP = 0.69)"],
                            "range": ["#1f77b4", "#ff7f0e", "#2ca02c", "#d62728", "#9467bd"]},
                  "legend": {"title": null, "orient": "bottom-left", "offset": 10}}
      }
    }
  ],
  "resolve": {"scale": {"color": "independent", "strokeDash": "independent", "x": "independent", "y": "independent"}, "legend": {"color": "independent", "strokeDash": "independent"}},
  "config": {
    "font": "Liberation Serif",
    "view": {"stroke": "#000000", "strokeWidth": 1.6},
    "title": {"font": "Liberation Serif", "fontSize": 23.5, "fontWeight": "normal", "color": "#000000", "offset": -3, "anchor": "middle", "frame": "group"},
    "axis": {
      "domain": false, "grid": false,
      "ticks": true, "tickColor": "#000000", "tickWidth": 1.6, "tickSize": 7,
      "labelFont": "Liberation Serif", "labelFontSize": 19.6, "labelColor": "#000000", "labelPadding": 6,
      "titleFont": "Liberation Serif", "titleFontSize": 19.6, "titleFontWeight": "normal", "titleColor": "#000000", "titlePadding": 6
    },
    "axisY": {"labelFlush": false, "labelPadding": 8, "titlePadding": 12},
    "axisX": {"labelFlush": false},
    "legend": {
      "labelFont": "Liberation Serif", "labelFontSize": 19.6, "labelColor": "#000000", "labelLimit": 0,
      "symbolType": "M-1,0L3,0", "symbolStrokeWidth": 2.9, "symbolSize": 441,
      "labelOffset": 36, "padding": 7, "rowPadding": 6,
      "fillColor": "rgba(255,255,255,0.8)", "strokeColor": "#cccccc", "cornerRadius": 4, "strokeWidth": 1.5
    }
  }
}
